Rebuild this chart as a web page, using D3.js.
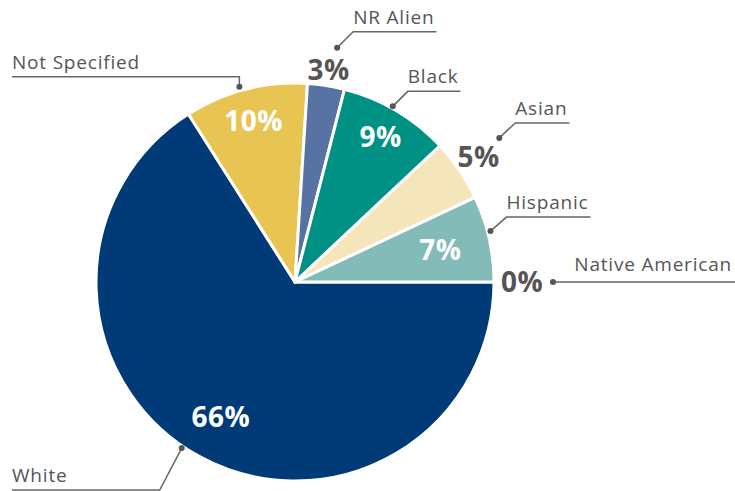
<!DOCTYPE html>
<html>
<head>
<meta charset="utf-8">
<script src="https://cdn.jsdelivr.net/npm/d3@7"></script>
<style>
  body { margin: 0; background: #fff; }
  svg { display: block; }
  .pct { font-family: "Open Sans", sans-serif; font-weight: bold; font-size: 28px; letter-spacing: 0.5px; }
  .cat { font-family: "Open Sans", sans-serif; font-size: 19px; fill: #555; letter-spacing: 0.8px; }
</style>
</head>
<body>
<svg></svg>
<script>
var width = 735, height = 491;

// data, clockwise from 3 o'clock
var categories = ["White", "Not Specified", "NR Alien", "Black", "Asian", "Hispanic", "Native American"];
var shares = [66, 10, 3, 9, 5, 7, 0];
var colors = ["#003a77", "#e8c553", "#5673a3", "#009185", "#f4e6ba", "#82bbb8", "#cccccc"];
// which labels sit inside the slice
var inside = [true, true, false, true, false, true, false];

// annotation layout: pct label radius, dot radius, dot angle shift (deg), elbow offset from dot
var layout = {
    "White": { lr: 154, r: 201, shift: 5.5, dx: -22, dy: 42, side: "left" },
    "Not Specified": { lr: 166, r: 203, shift: -1.5, dx: 0, dy: -10, side: "left" },
    "NR Alien": { lr: 215, r: 238, shift: 1.2, dx: 16, dy: -16, side: "right" },
    "Black": { lr: 168, r: 201, shift: -1.5, dx: 15, dy: -15, side: "right" },
    "Asian": { lr: 222, r: 250, shift: -1, dx: 16, dy: -15, side: "right" },
    "Hispanic": { lr: 149, r: 202, shift: -2, dx: 16, dy: -14, side: "right" },
    "Native American": { lr: 227, r: 258, shift: 0, dx: 0, dy: 0, side: "flat" }
};

var cx = 295, cy = 282, radius = 199;

const svg = d3.select("svg")
    .attr("width", width)
    .attr("height", height);

const g = svg.append("g")
    .attr("transform", `translate(${cx},${cy})`);

const data = categories.map((c, i) => ({ name: c, value: shares[i], color: colors[i], inside: inside[i] }));

const pie = d3.pie()
    .sort(null)
    .value(d => d.value)
    .startAngle(Math.PI / 2)
    .endAngle(Math.PI / 2 + 2 * Math.PI);

const arcs = pie(data);

const arc = d3.arc().innerRadius(0).outerRadius(radius);

// point on a circle of radius r at the slice's mid angle (+ shift)
function polar(d, r, shift) {
    const a = (d.startAngle + d.endAngle) / 2 + (shift || 0) * Math.PI / 180;
    return [r * Math.sin(a), -r * Math.cos(a)];
}

g.selectAll(".slice")
    .data(arcs.filter(d => d.data.value > 0))
    .enter().append("path")
    .attr("class", "slice")
    .attr("d", arc)
    .attr("fill", d => d.data.color)
    .attr("stroke", "#fff")
    .attr("stroke-width", 3)
    .attr("stroke-linejoin", "round");

// percentage labels
g.selectAll(".pct")
    .data(arcs)
    .enter().append("text")
    .attr("class", "pct")
    .attr("transform", d => {
        const p = polar(d, layout[d.data.name].lr, 0);
        return `translate(${p[0]},${p[1]})`;
    })
    .attr("text-anchor", "middle")
    .attr("dy", "0.36em")
    .attr("fill", d => d.data.inside ? "#fff" : "#555")
    .text(d => d.data.value + "%");

// leaders + category names
arcs.forEach(d => {
    const L = layout[d.data.name];
    const dot = polar(d, L.r, L.shift);
    const x0 = dot[0] + cx, y0 = dot[1] + cy;
    const ex = x0 + L.dx, ey = y0 + L.dy;

    const t = svg.append("text")
        .attr("class", "cat")
        .text(d.data.name);
    const tw = t.node().getComputedTextLength();

    let pts;
    if (L.side === "left") {
        pts = [[x0, y0], [ex, ey], [12, ey]];
        t.attr("x", 12).attr("y", ey - 8);
    } else if (L.side === "right") {
        pts = [[x0, y0], [ex, ey], [ex + tw + 2, ey]];
        t.attr("x", ex).attr("y", ey - 8);
    } else {
        pts = [[x0, y0], [width, y0]];
        t.attr("x", width - 3).attr("text-anchor", "end").attr("y", y0 - 11);
    }

    svg.append("path")
        .attr("d", d3.line()(pts))
        .attr("fill", "none")
        .attr("stroke", "#666")
        .attr("stroke-width", 1.5);

    svg.append("circle")
        .attr("cx", x0)
        .attr("cy", y0)
        .attr("r", 3)
        .attr("fill", "#555");
});
</script>
</body>
</html>
